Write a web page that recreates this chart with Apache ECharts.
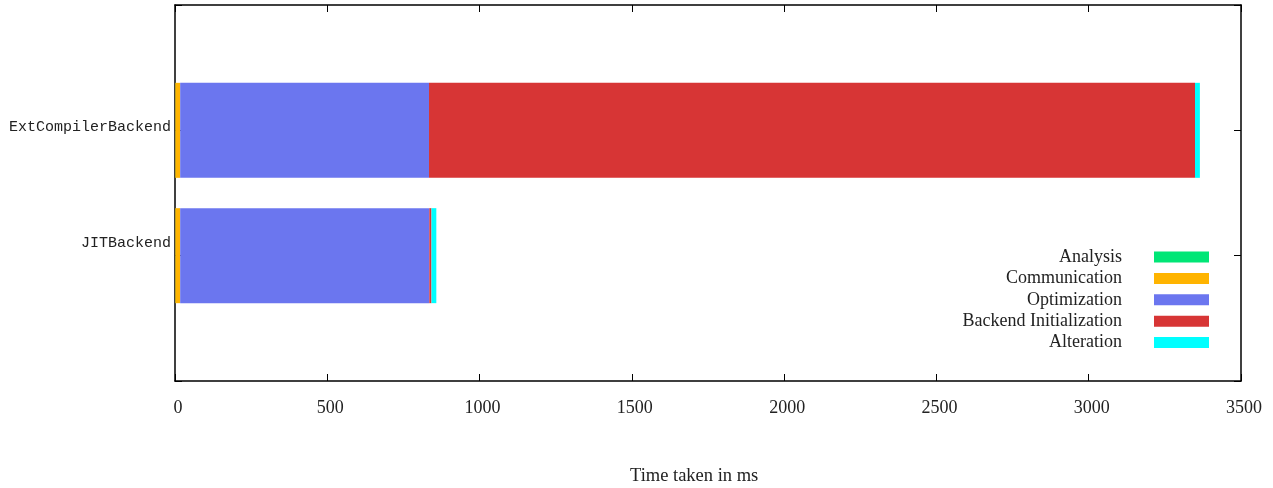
<!DOCTYPE html>
<html>
<head>
<meta charset="utf-8">
<script src="https://cdn.jsdelivr.net/npm/echarts@6/dist/echarts.min.js"></script>
<style>
  html, body { margin: 0; padding: 0; background: #fff; }
  #chart { width: 1273px; height: 488px; }
</style>
</head>
<body>
<div id="chart"></div>
<script>
// Backends shown on the y axis (bottom to top)
const backends = ['JITBackend', 'ExtCompilerBackend'];
// Phase names and their stacked durations in ms, one value per backend
const phases = ['Analysis', 'Communication', 'Optimization', 'Backend Initialization', 'Alteration'];
const analysis = [1, 1];
const communication = [16, 16];
const optimization = [818, 817];
const backendInit = [7, 2515];
const alteration = [16, 16];
const xTicks = [0, 500, 1000, 1500, 2000, 2500, 3000, 3500];

const phaseValues = [analysis, communication, optimization, backendInit, alteration];
const colors = ['#00e676', '#ffb400', '#6b76ef', '#d73535', '#00ffff'];

const serif = 'Liberation Serif';
const grid = { left: 175, right: 32, top: 5, bottom: 107 };

// pad the category axis with empty slots so each bar sits on a tick with room above and below
const yCats = [''].concat(backends, ['']);

const series = phases.map(function (name, i) {
  return {
    name: name,
    type: 'bar',
    stack: 'total',
    barWidth: 95,
    itemStyle: { color: colors[i] },
    data: [null].concat(phaseValues[i], [null]),
    silent: true
  };
});

// legend drawn as right-aligned text with a swatch to its right
const legendGraphics = [];
phases.forEach(function (name, i) {
  const y = 257 + i * 21.4;
  legendGraphics.push({
    type: 'text', right: 1273 - 1122, top: y - 9,
    style: { text: name, font: '18px "' + serif + '"', fill: '#222', textAlign: 'right' }
  });
  legendGraphics.push({
    type: 'rect', left: 1154, top: y - 5.5,
    shape: { width: 55, height: 11 },
    style: { fill: colors[i] }
  });
});
legendGraphics.push({
  type: 'text', left: 630, top: 467,
  style: { text: 'Time taken in ms', font: '18.5px "' + serif + '"', fill: '#222' }
});

// ticks point into the plot area on all four sides
const tickIn = { show: true, inside: false, length: -7, lineStyle: { color: '#000', width: 1 } };
const frameLine = { show: true, onZero: false, lineStyle: { color: '#000', width: 1.5 } };

const option = {
  animation: false,
  backgroundColor: '#fff',
  grid: grid,
  xAxis: [
    {
      type: 'value', min: 0, max: 3500, interval: 500, position: 'bottom',
      splitLine: { show: false }, axisLine: frameLine, axisTick: tickIn,
      axisLabel: {
        margin: 18, color: '#222', fontFamily: serif, fontSize: 18,
        padding: [0, 0, 0, 6],
        formatter: function (v) { return xTicks.indexOf(v) >= 0 ? String(v) : ''; }
      }
    },
    {
      type: 'value', min: 0, max: 3500, interval: 500, position: 'top',
      splitLine: { show: false }, axisLine: frameLine, axisTick: tickIn,
      axisLabel: { show: false }
    }
  ],
  yAxis: [
    {
      type: 'category', data: yCats, boundaryGap: false,
      axisLine: frameLine, axisTick: tickIn,
      axisLabel: {
        margin: 4, color: '#222', fontFamily: 'Liberation Mono', fontSize: 15,
        formatter: function (v) {
          if (v === 'JITBackend') return '{j|' + v + '}';
          if (v === 'ExtCompilerBackend') return '{e|' + v + '}';
          return v;
        },
        rich: {
          j: { fontFamily: 'Liberation Mono', fontSize: 15, color: '#222', padding: [0, 0, 26, 0] },
          e: { fontFamily: 'Liberation Mono', fontSize: 15, color: '#222', padding: [0, 0, 6, 0] }
        }
      },
      splitLine: { show: false }
    },
    {
      type: 'category', data: yCats, boundaryGap: false, position: 'right',
      axisLine: frameLine, axisTick: tickIn,
      axisLabel: { show: false },
      splitLine: { show: false }
    }
  ],
  series: series,
  graphic: legendGraphics
};

const chart = echarts.init(document.getElementById('chart'), null, { renderer: 'canvas' });
chart.setOption(option);
</script>
</body>
</html>
